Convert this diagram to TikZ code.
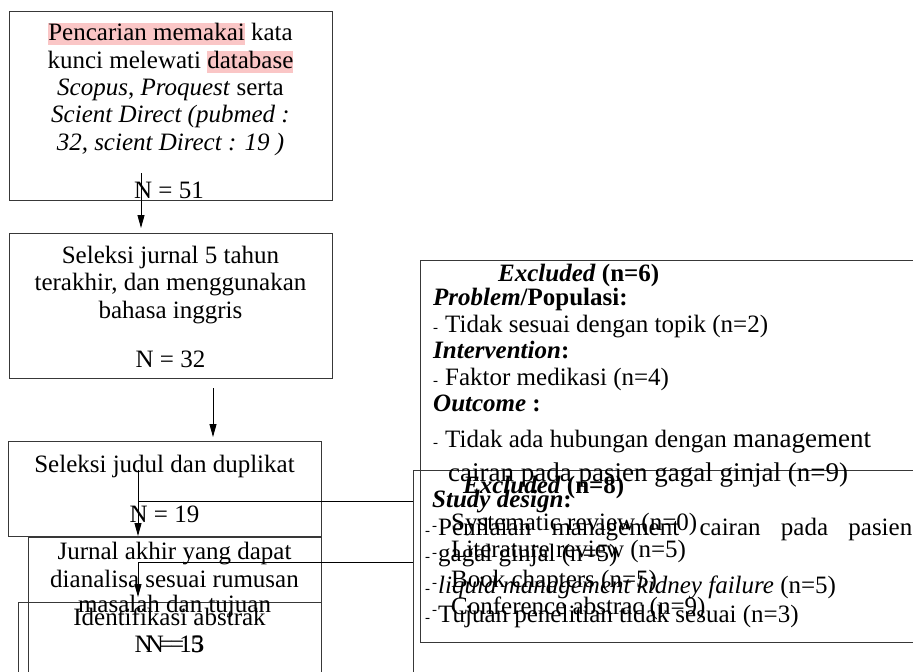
\documentclass[tikz,border=0pt]{standalone}
\usepackage{fontspec}
\setmainfont{Liberation Serif}
\usetikzlibrary{arrows.meta}
\definecolor{hlpink}{RGB}{250,198,198}
\newcommand\hlp[1]{{\setlength{\fboxsep}{0pt}\colorbox{hlpink}{\rule[-5pt]{0pt}{22pt}#1}}}
\newcommand\mgmtbig[1]{{\fontsize{27}{27}\selectfont #1}}
\begin{document}
\begin{tikzpicture}[x=1pt,y=-1pt,
  frame/.style={draw=black!78, line width=1.3pt, rectangle, anchor=north west, inner sep=0pt},
  txt/.style={font=\fontsize{25}{27.5}\selectfont, inner sep=0pt, anchor=base},
  ltxt/.style={txt, anchor=base west},
  dsh/.style={font=\fontsize{15}{15}\selectfont, inner sep=0pt, anchor=base west},
  conn/.style={draw=black, line width=0.9pt},
  arr/.style={conn, -{Triangle[length=13pt,width=7pt]}}]
\useasboundingbox (0,0) rectangle (913,672);
\fill[white] (0,0) rectangle (913,672);
\clip (0,0) rectangle (913,672);

% left column boxes
\node[frame, minimum width=323pt, minimum height=189pt] (b1) at (9,11) {};
\node[frame, minimum width=323pt, minimum height=145pt] (b2) at (9,233) {};
\node[frame, minimum width=313pt, minimum height=95pt] (b3) at (8,441) {};
\node[frame, minimum width=293pt, minimum height=200pt] (b4) at (28,537) {};
\node[frame, minimum width=303pt, minimum height=200pt] (b5) at (18,602) {};
% right boxes
\node[frame, minimum width=520pt, minimum height=382pt] (bA) at (420,260) {};
\node[frame, minimum width=520pt, minimum height=260pt] (bB) at (413,470) {};

% box 1 text
\node[txt] (t11) at (170.5,40) {\hlp{Pencarian memakai} kata};
\node[txt] (t12) at (170.5,68) {kunci melewati \hlp{database}};
\node[txt] (t13) at (170.5,95) {\textit{Scopus}, \textit{Proquest} serta};
\node[txt] (t14) at (170.5,122) {\textit{Scient Direct (pubmed :}};
\node[txt] (t15) at (170.5,150) {\textit{32, scient Direct : 19 )}};
\node[txt] (t16) at (169,198) {N = 51};
% box 2 text
\node[txt] (t21) at (170.5,263) {Seleksi jurnal 5 tahun};
\node[txt] (t22) at (170.5,290) {terakhir, dan menggunakan};
\node[txt] (t23) at (170.5,318) {bahasa inggris};
\node[txt] (t24) at (170.5,367) {N = 32};
% box 3 text
\node[txt] (t31) at (164.5,472) {Seleksi judul dan duplikat};
\node[txt] (t32) at (164.5,522) {N = 19};
% box 4 text
\node[txt] (t41) at (174.5,559) {Jurnal akhir yang dapat};
\node[txt] (t42) at (174.5,587) {dianalisa sesuai rumusan};
\node[txt] (t43) at (174.5,612) {masalah dan tujuan};
\node[txt] (t44) at (174.5,652) {N = 5};
% box 5 text
\node[txt] (t51) at (169.5,625) {Identifikasi abstrak};
\node[txt] (t52) at (169.5,652) {N = 13};

% box A text
\node[ltxt] (a01) at (498,281) {\textbf{\textit{Excluded}} \textbf{(n=6)}};
\node[ltxt] (a02) at (433,305) {\textbf{\textit{Problem}/Populasi:}};
\node[dsh] (d03) at (433,332) {-};
\node[ltxt] (a03) at (445,332) {Tidak sesuai dengan topik (n=2)};
\node[ltxt] (a04) at (433,358) {\textbf{\textit{Intervention}:}};
\node[dsh] (d05) at (433,385) {-};
\node[ltxt] (a05) at (445,385) {Faktor medikasi (n=4)};
\node[ltxt] (a06) at (433,411) {\textbf{\textit{Outcome} :}};
\node[dsh] (d07) at (433,447) {-};
\node[ltxt] (a07) at (445,447) {Tidak ada hubungan dengan \mgmtbig{management}};
\node[ltxt] (a08) at (448,481) {\mgmtbig{cairan pada pasien gagal ginjal (n=9)}};
\node[ltxt] (a09) at (432,507) {\textbf{\textit{Study design}:}};
\node[dsh] (d10) at (432,530) {-};
\node[ltxt] (a10) at (451,530) {Systematic review (n=0)};
\node[dsh] (d11) at (432,557) {-};
\node[ltxt] (a11) at (451,557) {Literature review (n=5)};
\node[dsh] (d12) at (432,587) {-};
\node[ltxt] (a12) at (451,587) {Book chapters (n=5)};
\node[dsh] (d13) at (432,614) {-};
\node[ltxt] (a13) at (451,614) {Conference abstrac (n=9)};

% box B text
\node[ltxt] (c01) at (463,493) {\textbf{\textit{Excluded}} \textbf{(n=8)}};
\node[dsh] (e02) at (425,535) {-};
\node[ltxt] (c02) at (438,535) {\makebox[474pt][s]{Penilaian management cairan pada pasien}};
\node[dsh] (e03) at (425,561) {-};
\node[ltxt] (c03) at (438,561) {gagal ginjal (n=5)};
\node[dsh] (e04) at (425,593) {-};
\node[ltxt] (c04) at (438,593) {\textit{liquid management kidney failure} (n=5)};
\node[dsh] (e05) at (425,622) {-};
\node[ltxt] (c05) at (438,622) {Tujuan penelitian tidak sesuai (n=3)};

% connectors
\coordinate (p1) at (141,173);
\coordinate (p2) at (141,228);
\draw[arr] (p1) -- (p2);
\coordinate (p3) at (213,388);
\coordinate (p4) at (213,437);
\draw[arr] (p3) -- (p4);
\coordinate (p5) at (138,470);
\coordinate (p6) at (138,536);
\draw[arr] (p5) -- (p6);
\coordinate (p7) at (138,501);
\draw[conn] (p7) -- (p7 -| bB.west);
\coordinate (p8) at (138,562);
\coordinate (p9) at (138,597);
\draw[arr] (p8) -- (p9);
\draw[conn] (p8) -- (p8 -| bB.west);
\end{tikzpicture}
\end{document}
